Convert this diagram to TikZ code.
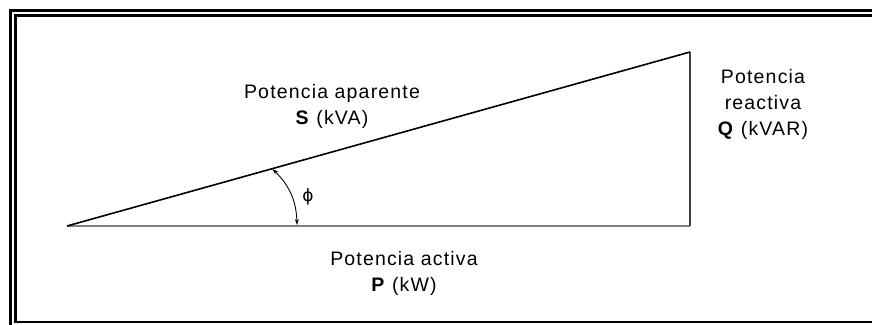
\documentclass[tikz,border=0pt]{standalone}
\usepackage{fontspec}
\setmainfont{Liberation Sans}[LetterSpace=6]
\newfontfamily\symfont{DejaVu Sans}
\usetikzlibrary{positioning,arrows.meta}

\begin{document}
\begin{tikzpicture}[x=1pt,y=-1pt,>={Stealth[length=6pt,width=4pt]},
  every node/.style={font=\fontsize{19.5}{26}\selectfont,align=center,inner sep=0pt}]
  \clip (0,0) rectangle (872,324);
  % double frame
  \draw[line width=2.2pt] (10.5,10.5) rectangle (900,340);
  \draw[line width=2.2pt] (15.5,15.5) rectangle (890,322);

  \coordinate (A) at (67,226);
  \coordinate (B) at (690,226);
  \coordinate (C) at (690,52);
  \coordinate (phiS) at (272.5,169);
  \coordinate (phiB) at (297,225);

  \draw[gray,line width=2.4pt] (A) -- (B);
  \draw[black!75,line width=1.5pt] (B) -- (C);
  \draw[line width=1.6pt] (A) -- (C);

  \draw[<->,line width=0.9pt] (phiS) to[bend left=22] (phiB);

  \node (phi) at (308,197) {\symfont\fontsize{17}{20}\selectfont ϕ};
  \node (S) at (332,106) {Potencia aparente\\\textbf{S} (kVA)};
  \node (Q) at (763,104) {Potencia\\reactiva\\\textbf{Q} (kVAR)};
  \node (P) at (404,273) {Potencia activa\\\textbf{P} (kW)};
\end{tikzpicture}
\end{document}
